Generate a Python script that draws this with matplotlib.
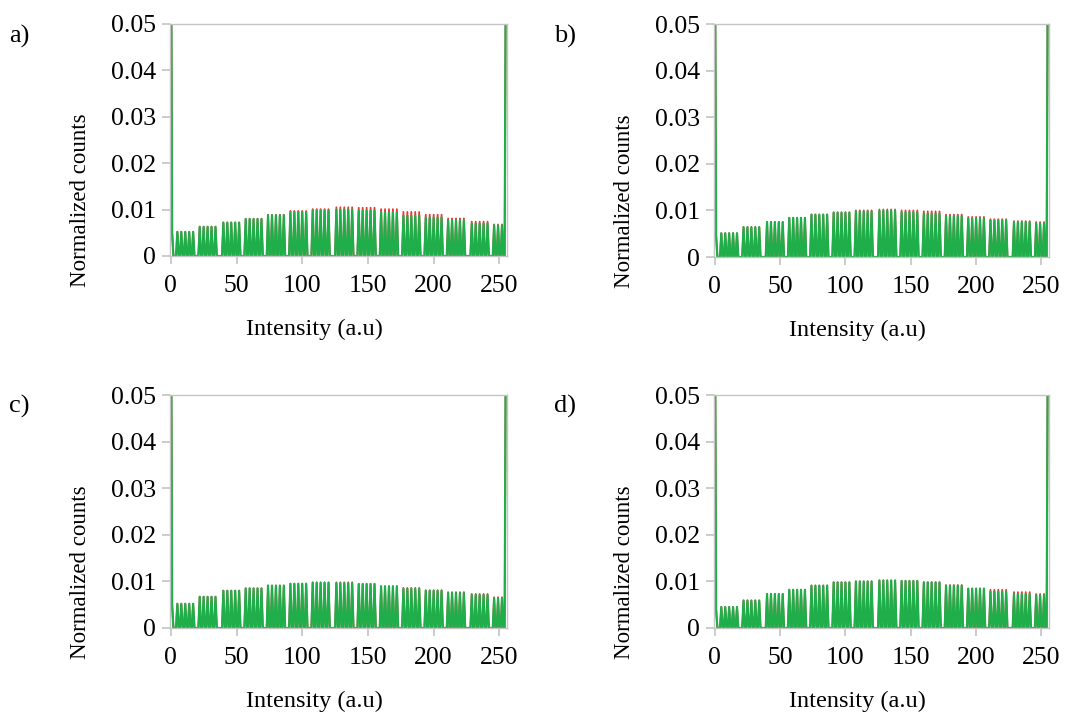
import numpy as np
import matplotlib.pyplot as plt

# histogram bins 0..255, spikes come in groups (comb pattern of a stretched image)
GROUP_STARTS = [5, 22, 40, 57, 74, 91, 108, 126, 143, 160, 177, 194, 211, 229, 246]
SPIKE_OFFSETS = [0, 3, 6, 9, 12]
PANELS = ['a)', 'b)', 'c)', 'd)']

# group peak heights (green / red), plus bin 1 value
green_a = [0.0052, 0.0063, 0.0072, 0.0080, 0.0088, 0.0095, 0.0099, 0.0100, 0.0098, 0.0094, 0.0087, 0.0083, 0.0076, 0.0070, 0.0066]
red_a = [0.0052, 0.0063, 0.0072, 0.0080, 0.0089, 0.0097, 0.0101, 0.0105, 0.0104, 0.0101, 0.0095, 0.0089, 0.0081, 0.0074, 0.0068]
green_b = [0.0051, 0.0064, 0.0075, 0.0084, 0.0091, 0.0095, 0.0098, 0.0099, 0.0096, 0.0093, 0.0088, 0.0082, 0.0079, 0.0075, 0.0072]
red_b = [0.0051, 0.0064, 0.0075, 0.0084, 0.0091, 0.0096, 0.0100, 0.0102, 0.0100, 0.0098, 0.0091, 0.0086, 0.0081, 0.0077, 0.0075]
green_c = [0.0052, 0.0067, 0.0080, 0.0085, 0.0091, 0.0095, 0.0097, 0.0096, 0.0094, 0.0089, 0.0084, 0.0080, 0.0075, 0.0071, 0.0064]
red_c = [0.0052, 0.0067, 0.0080, 0.0085, 0.0091, 0.0095, 0.0098, 0.0098, 0.0095, 0.0090, 0.0086, 0.0081, 0.0077, 0.0073, 0.0066]
green_d = [0.0045, 0.0059, 0.0073, 0.0082, 0.0091, 0.0098, 0.0100, 0.0102, 0.0101, 0.0098, 0.0091, 0.0084, 0.0078, 0.0073, 0.0070]
red_d = [0.0045, 0.0059, 0.0073, 0.0082, 0.0091, 0.0098, 0.0100, 0.0102, 0.0101, 0.0098, 0.0092, 0.0085, 0.0082, 0.0077, 0.0073]
bin1 = [0.0050, 0.0046, 0.0050, 0.0040]
bin0 = [0.09, 0.08, 0.09, 0.08]
bin255 = [0.07, 0.07, 0.07, 0.07]

XTICKS = [0, 50, 100, 150, 200, 250]
YTICKS = [0, 0.01, 0.02, 0.03, 0.04, 0.05]
YTICKLABELS = ['0', '0.01', '0.02', '0.03', '0.04', '0.05']

GREEN = '#1fae4a'
RED = '#ee3535'
GRAY = '#c4c4c4'

plt.rcParams['font.family'] = ['Liberation Serif', 'DejaVu Serif']


def build(heights, i):
    y = np.zeros(256)
    y[0] = bin0[i]
    y[1] = bin1[i]
    for g, s in enumerate(GROUP_STARTS):
        for o in SPIKE_OFFSETS:
            if s + o < 255:
                y[s + o] = heights[g]
    y[255] = bin255[i]
    return y


W, H = 1069, 712
fig = plt.figure(figsize=(W / 100, H / 100), dpi=100)

# axes boxes in pixels: left, top, right (x=255), bottom
boxes = [(170, 24, 506.6, 256), (714, 24, 1048.6, 257),
         (170, 395, 506.6, 628), (714, 395, 1048.6, 628)]
series = [(green_a, red_a), (green_b, red_b), (green_c, red_c), (green_d, red_d)]
letter_pos = [(9, 36), (554, 36), (9, 406), (554, 406)]

x = np.arange(256)
for i, (l, t, r, b) in enumerate(boxes):
    ax = fig.add_axes([l / W, (H - b) / H, (r - l) / W, (b - t) / H])
    g, rd = series[i]
    ax.plot(x, build(rd, i), color=RED, lw=1.3)
    ax.plot(x, build(g, i), color=GREEN, lw=1.6)
    ax.set_xlim(-0.6, 255.5)
    ax.set_ylim(0, 0.05)
    ax.set_xticks(XTICKS)
    ax.set_yticks(YTICKS)
    ax.set_yticklabels(YTICKLABELS)
    ax.tick_params(axis='both', colors=GRAY, labelcolor='black', labelsize=18.5, length=6, width=1.2)
    ax.tick_params(axis='x', pad=8)
    ax.tick_params(axis='y', pad=4)
    for sp in ax.spines.values():
        sp.set_color(GRAY)
        sp.set_linewidth(1.0)
    ax.set_xlabel('Intensity (a.u)', fontsize=17.5)
    ax.set_ylabel('Normalized counts', fontsize=16.5)
    ax.xaxis.set_label_coords(0.428, -0.27)
    ax.yaxis.set_label_coords(-0.235, 0.24)
    fig.text(letter_pos[i][0] / W, 1 - letter_pos[i][1] / H, PANELS[i], fontsize=19, ha='left', va='center')

fig.savefig('out.png', dpi=100)
